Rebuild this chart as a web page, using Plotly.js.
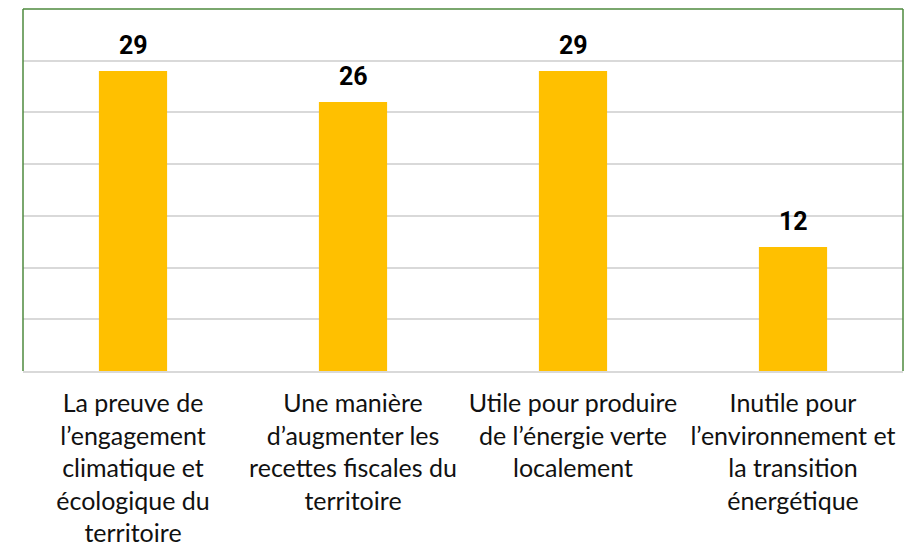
<!DOCTYPE html>
<html>
<head>
<meta charset="utf-8">
<script src="https://cdn.plot.ly/plotly-3.0.1.min.js"></script>
<style>html,body{margin:0;padding:0;background:#fff;}#chart{width:915px;height:551px;}</style>
</head>
<body>
<div id="chart"></div>
<script>
const categories = [
  "La preuve de<br>l’engagement<br>climatique et<br>écologique du<br>territoire",
  "Une manière<br>d’augmenter les<br>recettes fiscales du<br>territoire",
  "Utile pour produire<br>de l’énergie verte<br>localement",
  "Inutile pour<br>l’environnement et<br>la transition<br>énergétique"
];
const values = [29, 26, 29, 12];
const barColor = "#FFC000";

const trace = {
  type: "bar",
  x: categories,
  y: values,
  marker: {color: barColor},
  hoverinfo: "none"
};

const annotations = values.map((v, i) => ({
  x: categories[i], y: v, xref: "x", yref: "y",
  text: "<b>" + v + "</b>", showarrow: false,
  yanchor: "bottom", yshift: 9,
  font: {family: "Roboto, 'Noto Sans', sans-serif", size: 25, color: "#000"}
}));

const green = "#4E8A3E";
const shapes = [
  {type: "line", xref: "paper", yref: "paper", x0: 0, x1: 0, y0: 0, y1: 1, line: {color: green, width: 1.5}},
  {type: "line", xref: "paper", yref: "paper", x0: 0, x1: 1, y0: 1, y1: 1, line: {color: green, width: 1.5}},
  {type: "line", xref: "paper", yref: "paper", x0: 1, x1: 1, y0: 0, y1: 1, line: {color: green, width: 1.5}}
];

const layout = {
  width: 915, height: 551,
  margin: {l: 23, r: 12, t: 9, b: 180},
  paper_bgcolor: "#fff", plot_bgcolor: "#fff",
  bargap: 0.69,
  showlegend: false,
  xaxis: {
    showline: true, linecolor: "#d9d9d9", linewidth: 2,
    ticks: "", tickangle: 0, automargin: false, ticklabelstandoff: 9,
    tickfont: {family: "Lato, 'Noto Sans', sans-serif", size: 25, color: "#111"}
  },
  yaxis: {
    range: [0, 35], dtick: 5, showticklabels: false,
    gridcolor: "#d9d9d9", gridwidth: 2, zeroline: false, fixedrange: true
  },
  annotations: annotations,
  shapes: shapes
};

Plotly.newPlot("chart", [trace], layout, {displayModeBar: false, staticPlot: true});
</script>
</body>
</html>
